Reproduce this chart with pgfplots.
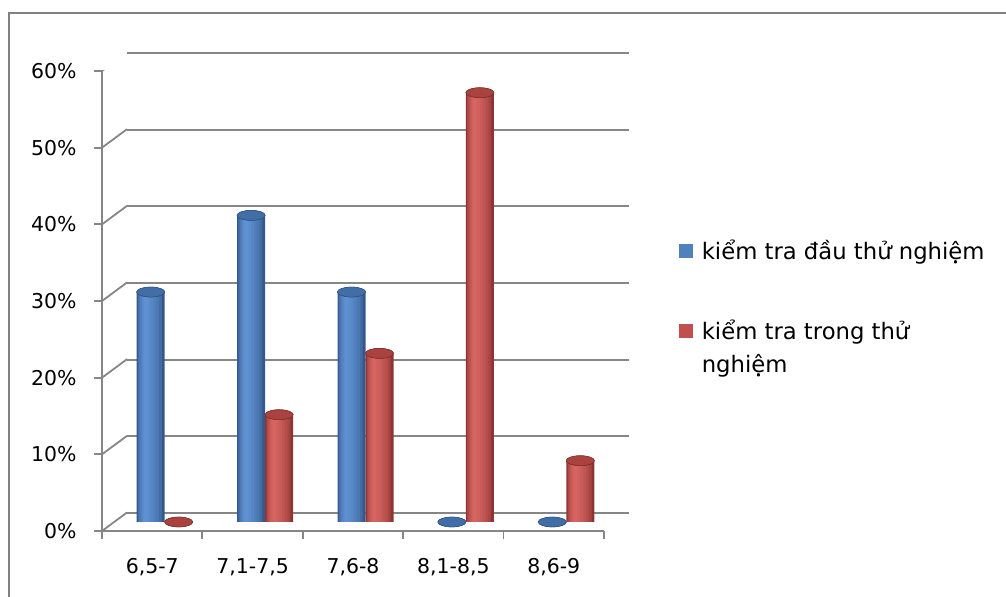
\documentclass[border=0pt]{standalone}
\usepackage{pgfplots}
\pgfplotsset{compat=1.18}
\usepackage{pgfplotstable}
\usepackage{fontspec}
\setmainfont{DejaVu Sans}
\definecolor{gridgray}{RGB}{134,134,134}
\definecolor{framegray}{RGB}{128,128,128}
\definecolor{bB}{RGB}{94,144,210}
\definecolor{bD}{RGB}{52,88,140}
\definecolor{bMain}{RGB}{79,129,189}
\definecolor{bCap}{RGB}{66,110,168}
\definecolor{bCapEdge}{RGB}{52,90,140}
\definecolor{rB}{RGB}{214,100,96}
\definecolor{rD}{RGB}{142,52,50}
\definecolor{rMain}{RGB}{192,80,77}
\definecolor{rCap}{RGB}{170,66,63}
\definecolor{rCapEdge}{RGB}{140,52,50}
\pgfplotstableread{
x blue red
0 30 0
1 40 14
2 30 22
3 0 56
4 0 8
}\data
\newcommand{\lblfont}{\fontsize{20.5}{25}\selectfont}
\newcommand{\legfont}{\fontsize{22.8}{33}\selectfont}
% one layer of a cylinder: width, shift, colour, column
\newcommand{\cyl}[4]{%
\addplot[forget plot, ybar, bar width=#1bp, bar shift=#2bp, fill=#3, draw=none,
  unbounded coords=discard, y filter/.expression={y==0 ? nan : y}]
  table[x=x, y=#4] {\data};}
\begin{document}
\begin{tikzpicture}
\path[use as bounding box] (0,0) rectangle (1006bp,597bp);
\draw[framegray, line width=2bp] (9bp,-5bp) -- (9bp,584bp) -- (1012bp,584bp);
% back wall
\begin{axis}[at={(127bp,84bp)}, anchor=south west, scale only axis,
  width=502bp, height=460bp, xmin=-0.5, xmax=4.5, ymin=0, ymax=60,
  axis line style={draw=none}, xtick=\empty, ytick={0,10,...,60},
  yticklabels={}, major tick length=0pt, ymajorgrids,
  grid style={gridgray, line width=1.8bp}]
\end{axis}
% front axis
\begin{axis}[at={(102bp,66bp)}, anchor=south west, scale only axis,
  width=502bp, height=460bp, xmin=-0.5, xmax=4.5, ymin=0, ymax=60,
  axis x line*=bottom, axis y line*=left,
  axis line style={gridgray, line width=1.8bp, -},
  tick style={gridgray, line width=1.8bp}, tick align=outside,
  major tick length=8bp, minor tick length=8bp,
  ytick={0,10,...,60}, yticklabels={0\%,10\%,20\%,30\%,40\%,50\%,60\%},
  xtick={0,1,2,3,4}, xticklabels={{6,5-7},{7,1-7,5},{7,6-8},{8,1-8,5},{8,6-9}},
  minor xtick={-0.5,0.5,...,4.5}, major x tick style={draw=none},
  tick label style={font=\lblfont, text=black},
  xticklabel style={font=\lblfont, text=black, yshift=-16bp},
  yticklabel style={font=\lblfont, text=black, xshift=-14bp}]
\pgfplotsinvokeforeach{0,10,...,60}{
  \draw[gridgray, line width=1.8bp] (axis cs:-0.5,#1) -- ++(25bp,18.5bp);
}
\draw[gridgray, line width=1.8bp] (axis cs:4.5,0) -- ++(25bp,18.5bp);
\end{axis}
% bars at mid depth
\begin{axis}[at={(114.5bp,75bp)}, anchor=south west, scale only axis,
  width=502bp, height=460bp, xmin=-0.5, xmax=4.5, ymin=0, ymax=60,
  hide axis, clip=false,
  legend style={at={(1.125,0.617)}, anchor=north west, draw=none, fill=none,
    font=\legfont, row sep=54.6bp, inner sep=0pt,
    cells={anchor=west, align=left}}]
% bottom ellipses
\addplot[forget plot, only marks, mark=*, mark size=14bp,
  mark options={xshift=-14bp, yscale=0.35, fill=bB!60!bD, draw=none}] table[x=x, y=blue] {\data};
\addplot[forget plot, only marks, mark=*, mark size=14bp,
  mark options={xshift=14bp, yscale=0.35, fill=rB!60!rD, draw=none}] table[x=x, y=red] {\data};
% cylinders (layers approximate the round shading)
\cyl{28}{-14}{bD}{blue}
\cyl{24}{-14.8}{bB!35!bD}{blue}
\cyl{20}{-15.6}{bB!55!bD}{blue}
\cyl{16}{-16.4}{bB!70!bD}{blue}
\cyl{12}{-17.2}{bB!82!bD}{blue}
\cyl{8}{-18}{bB!92!bD}{blue}
\cyl{4}{-18.8}{bB}{blue}
\cyl{28}{14}{rD}{red}
\cyl{24}{13.2}{rB!35!rD}{red}
\cyl{20}{12.4}{rB!55!rD}{red}
\cyl{16}{11.6}{rB!70!rD}{red}
\cyl{12}{10.8}{rB!82!rD}{red}
\cyl{8}{10}{rB!92!rD}{red}
\cyl{4}{9.2}{rB}{red}
% caps
\addplot[forget plot, only marks, mark=*, mark size=14bp,
  mark options={xshift=-14bp, yscale=0.35, fill=bCap, draw=bCapEdge, line width=0.6bp}] table[x=x, y=blue] {\data};
\addplot[forget plot, only marks, mark=*, mark size=14bp,
  mark options={xshift=14bp, yscale=0.35, fill=rCap, draw=rCapEdge, line width=0.6bp}] table[x=x, y=red] {\data};
\addlegendimage{legend image code/.code={\fill[bMain] (0bp,-6.5bp) rectangle (13bp,6.5bp); \path (20bp,0bp);}}
\addlegendentry{kiểm tra đầu thử nghiệm}
\addlegendimage{legend image code/.code={\fill[rMain] (0bp,10bp) rectangle (13bp,23bp); \path (20bp,-23bp);}}
\addlegendentry{kiểm tra trong thử\\nghiệm}
\end{axis}
\end{tikzpicture}
\end{document}
